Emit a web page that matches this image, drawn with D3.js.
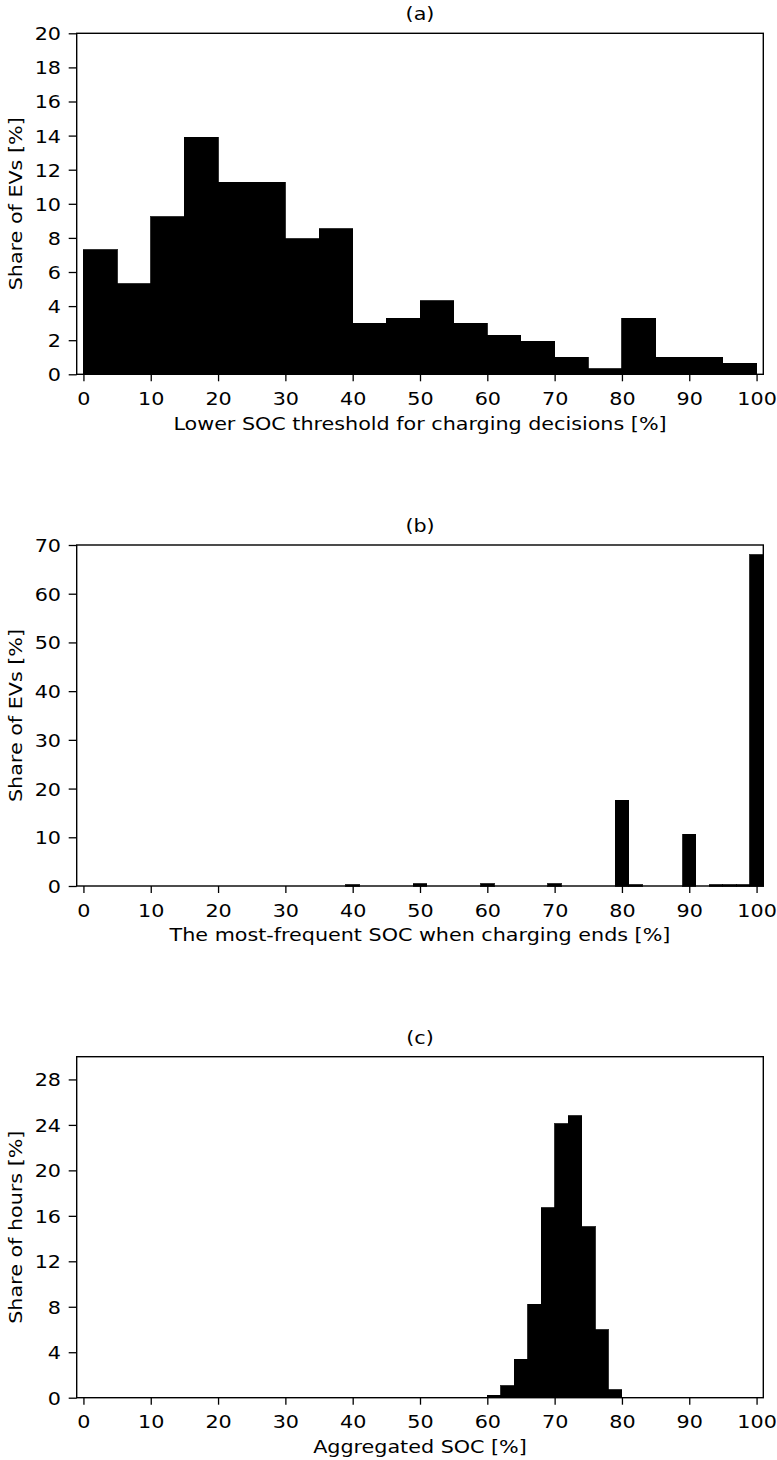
<!DOCTYPE html>
<html>
<head>
<meta charset="utf-8">
<script src="https://cdn.jsdelivr.net/npm/d3@7"></script>
<style>
  html, body { margin: 0; padding: 0; background: #fff; }
  svg { display: block; }
  text { font-family: "DejaVu Sans", sans-serif; fill: #000; }
</style>
</head>
<body>
<svg id="chart" width="777" height="1460"></svg>
<script>
// ---- Data ----
// Panel (a): bins of width 5 from 0 to 100
const binStartsA = [0,5,10,15,20,25,30,35,40,45,50,55,60,65,70,75,80,85,90,95];
const valuesA    = [7.3,5.3,9.25,13.9,11.25,11.25,7.95,8.55,3.0,3.3,4.3,3.0,2.3,1.95,1.0,0.33,3.3,1.0,1.0,0.65];
const binWidthA = 5;

// Panel (b): bins of width 2 centred on even integers
const binCentersB = [40,50,60,70,80,82,90,94,96,98,100];
const valuesB     = [0.3,0.5,0.5,0.5,17.6,0.3,10.6,0.3,0.3,0.3,68.0];
const binWidthB = 2;

// Panel (c): bins of width 2 from 60 to 80
const binStartsC = [60,62,64,66,68,70,72,74,76,78];
const valuesC    = [0.2,1.05,3.4,8.2,16.7,24.1,24.8,15.05,6.0,0.7];
const binWidthC = 2;

const xTicks = [0,10,20,30,40,50,60,70,80,90,100];
const yTicksA = [0,2,4,6,8,10,12,14,16,18,20];
const yTicksB = [0,10,20,30,40,50,60,70];
const yTicksC = [0,4,8,12,16,20,24,28];

const titles = ["(a)", "(b)", "(c)"];
const xLabels = ["Lower SOC threshold for charging decisions [%]",
                 "The most-frequent SOC when charging ends [%]",
                 "Aggregated SOC [%]"];
const yLabels = ["Share of EVs [%]", "Share of EVs [%]", "Share of hours [%]"];

// ---- Layout ----
const svg = d3.select("#chart");
const left = 76.7, right = 763.3, plotH = 341;
const tops = [33.3, 545, 1056.7];
const fs = 18;
const sx = 1.15; // horizontal glyph stretch seen in the reference

const panels = [
  { bins: binStartsA.map((s,i)=>({x0:s, x1:s+binWidthA, v:valuesA[i]})), yMax: 20, yTicks: yTicksA },
  { bins: binCentersB.map((c,i)=>({x0:c-binWidthB/2, x1:c+binWidthB/2, v:valuesB[i]})), yMax: 70, yTicks: yTicksB },
  { bins: binStartsC.map((s,i)=>({x0:s, x1:s+binWidthC, v:valuesC[i]})), yMax: 30, yTicks: yTicksC }
];

const x = d3.scaleLinear().domain([-1, 101]).range([left, right]);

panels.forEach((p, k) => {
  const top = tops[k], bottom = top + plotH;
  const y = d3.scaleLinear().domain([0, p.yMax]).range([bottom, top]);
  const g = svg.append("g");

  // bars
  g.selectAll("rect.bar").data(p.bins).enter().append("rect")
    .attr("class", "bar")
    .attr("x", d => x(d.x0))
    .attr("width", d => x(d.x1) - x(d.x0))
    .attr("y", d => y(d.v))
    .attr("height", d => y(0) - y(d.v))
    .attr("fill", "#000")
    .attr("stroke", "#000")
    .attr("stroke-width", 0.8)
    .attr("shape-rendering", "crispEdges");

  // x axis
  const xa = g.append("g").attr("transform", `translate(0,${bottom})`)
    .call(d3.axisBottom(x).tickValues(xTicks).tickSize(7).tickFormat(d3.format("d")));
  xa.select(".domain").remove();
  xa.selectAll(".tick line").attr("stroke", "#000").attr("stroke-width", 1.3);
  xa.selectAll(".tick text").attr("x", 0).attr("y", 0).attr("dy", null)
    .attr("transform", `translate(0,30.7) scale(${sx},1)`)
    .style("font-size", fs + "px").style("font-family", "DejaVu Sans");

  // y axis
  const ya = g.append("g").attr("transform", `translate(${left},0)`)
    .call(d3.axisLeft(y).tickValues(p.yTicks).tickSize(8).tickFormat(d3.format("d")));
  ya.select(".domain").remove();
  ya.selectAll(".tick line").attr("stroke", "#000").attr("stroke-width", 1.3);
  ya.selectAll(".tick text").attr("x", 0).attr("y", 0).attr("dy", "0.36em")
    .attr("transform", `translate(-15.7,0) scale(${sx},1)`)
    .style("font-size", fs + "px").style("font-family", "DejaVu Sans");

  // frame (spines)
  g.append("rect")
    .attr("x", left).attr("y", top)
    .attr("width", right - left).attr("height", plotH)
    .attr("fill", "none").attr("stroke", "#000").attr("stroke-width", 1.4);

  // title
  g.append("text")
    .attr("transform", `translate(${(left + right) / 2},${top - 12.9}) scale(${sx},1)`)
    .attr("text-anchor", "middle").style("font-size", fs + "px").text(titles[k]);

  // x label
  g.append("text")
    .attr("transform", `translate(${(left + right) / 2},${bottom + 55.2}) scale(${sx},1)`)
    .attr("text-anchor", "middle").style("font-size", fs + "px").text(xLabels[k]);

  // y label
  g.append("text")
    .attr("transform", `translate(21.5,${top + plotH / 2}) rotate(-90) scale(${sx},1)`)
    .attr("text-anchor", "middle").style("font-size", fs + "px").text(yLabels[k]);
});
</script>
</body>
</html>
